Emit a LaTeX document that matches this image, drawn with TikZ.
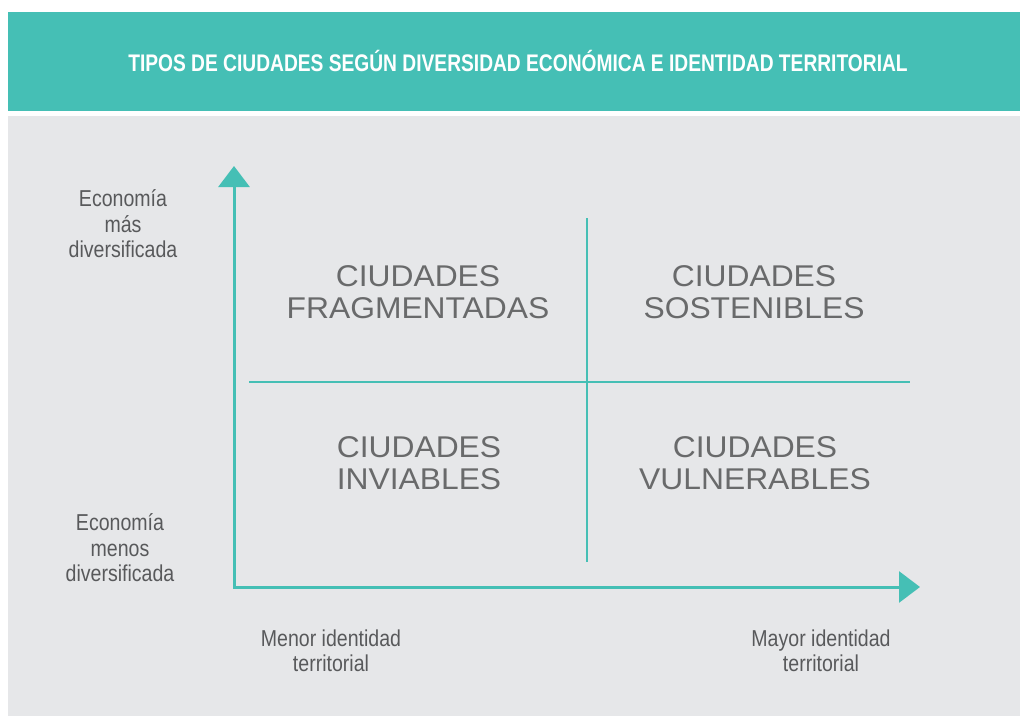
\documentclass[tikz,border=0pt]{standalone}
\usepackage{fontspec}
\setmainfont{Liberation Sans}
\newfontfamily\titlefont[FakeStretch=0.8]{Liberation Sans}
\newfontfamily\condfont[FakeStretch=0.85]{Liberation Sans}
\newfontfamily\widefont[FakeStretch=1.06]{Liberation Sans}
\usepackage{xcolor}
\usepackage{tikz}
\usetikzlibrary{arrows.meta, positioning}
\definecolor{teal}{RGB}{69,191,181}
\definecolor{panelgray}{RGB}{230,231,233}
\definecolor{textgray}{RGB}{88,89,91}
\tikzset{
  title/.style={text=white, inner sep=0pt, font=\titlefont\bfseries\fontsize{24}{26}\selectfont},
  quadrant/.style={text=textgray!90, inner sep=0pt, align=center, font=\widefont\fontsize{30}{31.5}\selectfont},
  axislabel/.style={text=textgray, inner sep=0pt, align=center, font=\condfont\fontsize{23}{25.5}\selectfont},
  axis/.style={draw=teal, line width=3pt, {Triangle[width=31pt,length=21pt]}-{Triangle[width=31pt,length=21pt]}},
  divider/.style={draw=teal, line width=2.5pt}
}

\begin{document}
\begin{tikzpicture}[x=1pt, y=-1pt]
        \useasboundingbox (0,0) rectangle (1020,717);
        % Background
        \fill[teal] (8,12) rectangle (1020,111);
        \fill[panelgray] (8,116) rectangle (1020,716);

        % Nodes
        \node (heading) [title] at (518,61) {TIPOS DE CIUDADES SEGÚN DIVERSIDAD ECONÓMICA E IDENTIDAD TERRITORIAL};

        \node (fragmentadas) [quadrant] at (418,292) {CIUDADES\\FRAGMENTADAS};
        \node (sostenibles) [quadrant] at (754,292) {CIUDADES\\SOSTENIBLES};
        \node (inviables) [quadrant] at (419,463) {CIUDADES\\INVIABLES};
        \node (vulnerables) [quadrant] at (755,463) {CIUDADES\\VULNERABLES};

        \node (mas_div) [axislabel] at (123,224) {Economía\\más\\diversificada};
        \node (menos_div) [axislabel] at (120,548) {Economía\\menos\\diversificada};
        \node (menor_id) [axislabel] at (331,651) {Menor identidad\\territorial};
        \node (mayor_id) [axislabel] at (821,651) {Mayor identidad\\territorial};

        \coordinate (origin) at (234,587);
        \coordinate (ytip) at (234,166);
        \coordinate (xtip) at (920,587);
        \coordinate (vtop) at (587,218);
        \coordinate (vbottom) at (587,562);
        \coordinate (hleft) at (249,382);
        \coordinate (hright) at (910,382);

        % Paths
        \draw [axis] (ytip) -- (origin) -- (xtip);
        \draw [divider] (vtop) -- (vbottom);
        \draw [divider] (hleft) -- (hright);
        \end{tikzpicture}
\end{document}
